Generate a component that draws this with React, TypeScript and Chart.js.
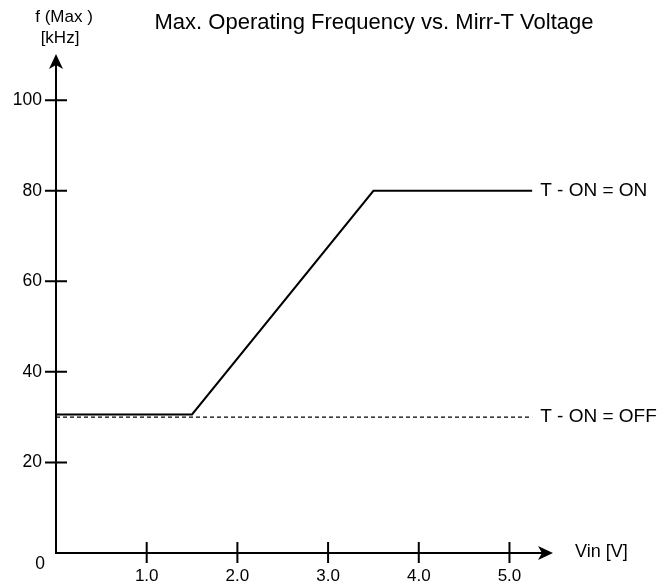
import React, { useEffect, useRef } from "react";
import { Chart, registerables } from "chart.js";

Chart.register(...registerables);

const vinOn = [0, 1.5, 3.5, 5.25];
const freqOn = [30.6, 30.6, 80, 80];
const vinOff = [0, 5.25];
const freqOff = [30, 30];
const yTickValues = [20, 40, 60, 80, 100];
const xTickValues = [1, 2, 3, 4, 5];
const xTickLabels = ["1.0", "2.0", "3.0", "4.0", "5.0"];
const seriesLabels = ["T - ON = ON", "T - ON = OFF"];
const titleText = "Max. Operating Frequency vs. Mirr-T Voltage";
const yAxisTitle = ["f (Max )", "[kHz]"];
const xAxisTitle = "Vin [V]";
const X_MAX = 5.48;
const Y_MAX = 110.2;

const FONT = '"Liberation Sans", Arial, Helvetica, sans-serif';

const decorPlugin = {
  id: "decor",
  afterDraw(chart: any) {
    const ctx = chart.ctx as CanvasRenderingContext2D;
    const xs = chart.scales.x;
    const ys = chart.scales.y;
    const x0 = xs.getPixelForValue(0);
    const y0 = ys.getPixelForValue(0);
    const xEnd = xs.getPixelForValue(X_MAX);
    const yEnd = ys.getPixelForValue(Y_MAX);
    ctx.save();
    ctx.strokeStyle = "#000";
    ctx.fillStyle = "#000";
    ctx.lineWidth = 2;
    ctx.lineCap = "butt";
    // axes
    ctx.beginPath();
    ctx.moveTo(x0, y0 + 1);
    ctx.lineTo(x0, yEnd + 8);
    ctx.moveTo(x0 - 1, y0);
    ctx.lineTo(xEnd - 8, y0);
    ctx.stroke();
    // arrow heads
    ctx.beginPath();
    ctx.moveTo(x0, yEnd);
    ctx.lineTo(x0 + 7, yEnd + 15);
    ctx.lineTo(x0, yEnd + 11);
    ctx.lineTo(x0 - 7, yEnd + 15);
    ctx.closePath();
    ctx.fill();
    ctx.beginPath();
    ctx.moveTo(xEnd, y0);
    ctx.lineTo(xEnd - 15, y0 - 7);
    ctx.lineTo(xEnd - 11, y0);
    ctx.lineTo(xEnd - 15, y0 + 7);
    ctx.closePath();
    ctx.fill();
    // tick marks
    ctx.beginPath();
    yTickValues.forEach((v) => {
      const py = ys.getPixelForValue(v);
      ctx.moveTo(x0 - 11, py);
      ctx.lineTo(x0 + 11, py);
    });
    xTickValues.forEach((v) => {
      const px = xs.getPixelForValue(v);
      ctx.moveTo(px, y0 - 11);
      ctx.lineTo(px, y0 + 10);
    });
    ctx.stroke();
    // tick labels
    ctx.font = `17.5px ${FONT}`;
    ctx.textBaseline = "middle";
    ctx.textAlign = "right";
    yTickValues.forEach((v) => {
      ctx.fillText(String(v), x0 - 14, ys.getPixelForValue(v));
    });
    ctx.textAlign = "center";
    ctx.fillText("0", x0 - 16, y0 + 11);
    ctx.font = `17px ${FONT}`;
    xTickValues.forEach((v, i) => {
      ctx.fillText(xTickLabels[i], xs.getPixelForValue(v), y0 + 23);
    });
    // axis titles
    ctx.fillText(yAxisTitle[0], x0 + 8, 17);
    ctx.fillText(yAxisTitle[1], x0 + 4, 38);
    ctx.textAlign = "left";
    ctx.font = `18px ${FONT}`;
    ctx.fillText(xAxisTitle, xEnd + 22, y0 - 1);
    // series labels at line ends
    ctx.font = `19px ${FONT}`;
    chart.data.datasets.forEach((ds: any, i: number) => {
      const meta = chart.getDatasetMeta(i);
      const last = meta.data[meta.data.length - 1];
      ctx.fillText(seriesLabels[i], last.x + 8, last.y);
    });
    // title
    ctx.font = `22px ${FONT}`;
    ctx.textAlign = "center";
    ctx.fillText(titleText, 374, 23);
    ctx.restore();
  },
};

export default function App() {
  const ref = useRef<HTMLCanvasElement>(null);
  useEffect(() => {
    document.body.style.margin = "0";
    const chart = new Chart(ref.current!, {
      type: "scatter",
      data: {
        datasets: [
          {
            label: seriesLabels[0],
            data: vinOn.map((x, i) => ({ x, y: freqOn[i] })),
            showLine: true,
            borderColor: "#000",
            borderWidth: 2,
            pointRadius: 0,
            tension: 0,
          },
          {
            label: seriesLabels[1],
            data: vinOff.map((x, i) => ({ x, y: freqOff[i] })),
            showLine: true,
            borderColor: "#000",
            borderWidth: 1.3,
            borderDash: [4, 3],
            pointRadius: 0,
            tension: 0,
          },
        ],
      },
      options: {
        animation: false,
        responsive: false,
        events: [],
        layout: { padding: { left: 56, top: 54, right: 672 - 553, bottom: 588 - 553 } },
        scales: {
          x: { type: "linear", min: 0, max: X_MAX, display: false },
          y: { type: "linear", min: 0, max: Y_MAX, display: false },
        },
        plugins: { legend: { display: false }, tooltip: { enabled: false }, title: { display: false } },
      },
      plugins: [decorPlugin],
    });
    return () => chart.destroy();
  }, []);
  return <canvas ref={ref} width={672} height={588} style={{ display: "block", background: "#fff" }} />;
}
